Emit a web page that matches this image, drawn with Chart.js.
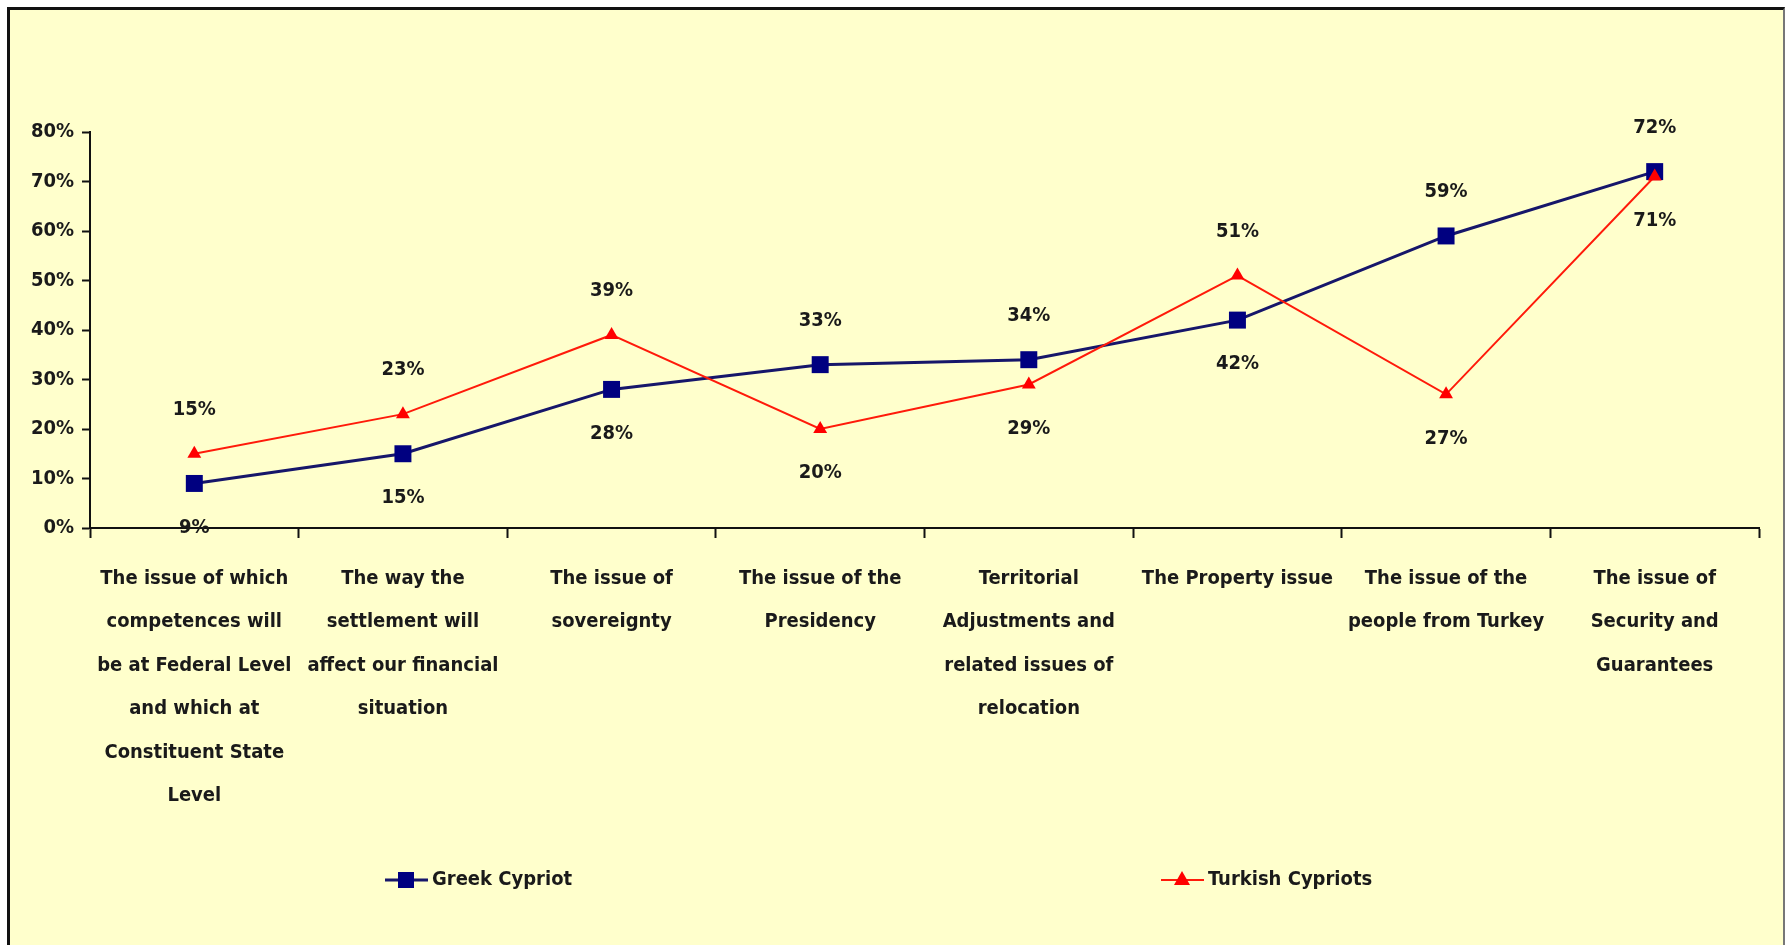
<!DOCTYPE html>
<html><head><meta charset="utf-8">
<script src="https://cdn.jsdelivr.net/npm/chart.js@4/dist/chart.umd.min.js"></script>
<style>
body{margin:0;background:#fff;overflow:hidden}
#frame{position:absolute;left:7px;top:7px;width:1773px;height:950px;background:#ffffcc;border-left:3px solid #111;border-top:3px solid #111;border-right:2px solid #777}
#c{position:absolute;left:0;top:0}
</style></head><body>
<div id="frame"></div>
<canvas id="c" width="1785" height="945"></canvas>
<script>
// categories (one array of lines per tick label)
const issues = [
  ['The issue of which', 'competences will', 'be at Federal Level', 'and which at', 'Constituent State', 'Level'],
  ['The way the', 'settlement will', 'affect our financial', 'situation'],
  ['The issue of', 'sovereignty'],
  ['The issue of the', 'Presidency'],
  ['Territorial', 'Adjustments and', 'related issues of', 'relocation'],
  ['The Property issue'],
  ['The issue of the', 'people from Turkey'],
  ['The issue of', 'Security and', 'Guarantees']
]
const names = ['Greek Cypriot', 'Turkish Cypriots']
const greek = [9, 15, 28, 33, 34, 42, 59, 72]
const turkish = [15, 23, 39, 20, 29, 51, 27, 71]
// where each value label sits relative to its point
const greekSide = ['below', 'below', 'below', 'above', 'above', 'below', 'above', 'above']
const turkishSide = ['above', 'above', 'above', 'below', 'below', 'above', 'below', 'below']

const fam = "'Liberation Sans Narrow', 'DejaVu Sans Condensed', sans-serif"
const ink = '#1a1a1a'
const fs = 20

const valueLabels = {
  id: 'valueLabels',
  afterDatasetsDraw(chart) {
    const c = chart.ctx
    c.save()
    c.font = `bold ${fs}px ${fam}`, c.fillStyle = ink, c.textAlign = 'center', c.textBaseline = 'middle'
    chart.data.datasets.forEach((ds, k) =>
      chart.getDatasetMeta(k).data.forEach((p, i) =>
        c.fillText(ds.data[i] + '%', p.x, p.y + (ds.sides[i] == 'above' ? -44 : 44))))
    c.restore()
  }
}

const bottomLegend = {
  id: 'bottomLegend',
  afterDraw(chart) {
    const c = chart.ctx, y = 880, starts = [385, 1161]
    c.save()
    chart.data.datasets.forEach((ds, k) => {
      const x = starts[k], m = x + 21
      c.strokeStyle = ds.borderColor, c.lineWidth = ds.borderWidth
      c.beginPath(), c.moveTo(x, y), c.lineTo(x + 43, y), c.stroke()
      c.fillStyle = ds.pointBackgroundColor
      c.beginPath()
      if (ds.pointStyle == 'rect') c.rect(m - 8, y - 8, 16, 16)
      else c.moveTo(m, y - 9), c.lineTo(m + 8, y + 5), c.lineTo(m - 8, y + 5), c.closePath()
      c.fill()
      c.font = `bold ${fs}px ${fam}`, c.fillStyle = ink, c.textBaseline = 'middle', c.textAlign = 'left'
      c.fillText(ds.label, x + 47, y)
    })
    c.restore()
  }
}

new Chart(document.getElementById('c'), {
  type: 'line',
  data: {
    labels: issues,
    datasets: [
      { label: names[0], data: greek, sides: greekSide, order: 1,
        borderColor: '#16166a', borderWidth: 3, pointStyle: 'rect', pointRadius: 12,
        pointBackgroundColor: '#000080', pointBorderColor: '#000080', pointBorderWidth: 0 },
      { label: names[1], data: turkish, sides: turkishSide, order: 0,
        borderColor: '#ff1a0a', borderWidth: 2, pointStyle: 'triangle', pointRadius: 8,
        pointBackgroundColor: '#ff0000', pointBorderColor: '#ff0000', pointBorderWidth: 0 }
    ]
  },
  options: {
    responsive: false, animation: false, devicePixelRatio: 1,
    layout: { padding: { left: 10, top: 132, right: 26, bottom: 0 } },
    plugins: { legend: { display: false }, tooltip: { enabled: false } },
    elements: { line: { tension: 0 } },
    scales: {
      x: {
        offset: true,
        afterFit: s => { s.height = 417 },
        grid: { offset: true, drawOnChartArea: false, color: '#111', tickLength: 10, tickWidth: 2 },
        border: { color: '#111', width: 2 },
        ticks: { color: ink, autoSkip: false, maxRotation: 0, padding: 19,
          font: { family: fam, size: fs, weight: 'bold', lineHeight: 43.5 / fs } }
      },
      y: {
        min: 0, max: 80,
        afterFit: s => { s.width = 80 },
        grid: { drawOnChartArea: false, color: '#111', tickLength: 8, tickWidth: 2 },
        border: { color: '#111', width: 2 },
        ticks: { stepSize: 10, color: ink, padding: 8, callback: v => v + '%',
          font: { family: fam, size: fs, weight: 'bold' } }
      }
    }
  },
  plugins: [valueLabels, bottomLegend]
})
</script>
</body></html>
